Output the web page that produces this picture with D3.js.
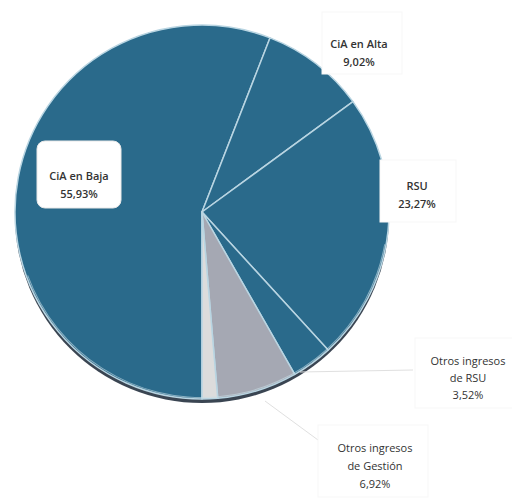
<!DOCTYPE html>
<html><head><meta charset="utf-8">
<script src="https://cdn.jsdelivr.net/npm/d3@7"></script>
<style>body{margin:0;background:#fff}svg{display:block}</style>
</head><body>
<svg id="c" width="512" height="500"></svg>
<script>
const categories = ["CIA en Baja", "CIA en Alta", "RSU", "Otros ingresos de RSU", "Otros ingresos de Gestión", "Otros"];
const values = [55.93, 9.02, 23.27, 3.52, 6.92, 1.34];
const valueLabels = ["55,93%", "9,02%", "23,27%", "3,52%", "6,92%", ""];
const labelLines = [["CiA en Baja", "55,93%"], ["CiA en Alta", "9,02%"], ["RSU", "23,27%"], ["Otros ingresos", "de RSU", "3,52%"], ["Otros ingresos", "de Gestión", "6,92%"], []];
const colors = ["#2a6a8b", "#2a6a8b", "#2a6a8b", "#2a6a8b", "#a5a8b3", "#dcdcdc"];

const svg = d3.select("#c");
const cx = 202, cy = 212, R = 187;
const g = svg.append("g").attr("transform", `translate(${cx},${cy})`);

const total = d3.sum(values);
const startDeg = 180 - 360;
const pie = d3.pie().sort(null).value(d => d)
  .startAngle(startDeg * Math.PI / 180).endAngle(startDeg * Math.PI / 180 + 2 * Math.PI);
const arcs = pie(values);
const arc = d3.arc().innerRadius(0).outerRadius(R);

// shadow rim
g.append("circle").attr("cx", 0).attr("cy", 4).attr("r", R).attr("fill", "#3a4552");

g.selectAll("path.slice").data(arcs).enter().append("path")
  .attr("class", "slice")
  .attr("d", arc)
  .attr("fill", (d, i) => colors[i])
  .attr("stroke", "#b9d5e2")
  .attr("stroke-width", 1.5)
  .attr("stroke-linejoin", "round");

// highlight line along bottom edge
const hl = d3.arc().innerRadius(R - 2).outerRadius(R - 1)
  .startAngle(100 * Math.PI / 180).endAngle(250 * Math.PI / 180);
g.append("path").attr("d", hl()).attr("fill", "#c8dde6").attr("opacity", 0.6);

// leader lines (faint)
const lead = svg.append("g").attr("stroke", "#e0e0e0").attr("stroke-width", 1).attr("fill", "none");
lead.append("polyline").attr("points", "265,401 318,440");
lead.append("polyline").attr("points", "300,372 413,370");

function labelBlock(lines, x, y0, lh, opts) {
  const t = svg.append("text")
    .attr("text-anchor", "middle")
    .attr("font-family", "'Open Sans', 'DejaVu Sans', sans-serif")
    .attr("font-size", 11)
    .attr("font-weight", opts && opts.bold ? 600 : 400)
    .attr("fill", "#333");
  lines.forEach((s, k) => t.append("tspan").attr("x", x).attr("y", y0 + k * lh).text(s));
}
// faint background boxes
const boxes = [
  [322, 12, 80, 62], [380, 160, 76, 62], [415, 338, 100, 70], [318, 425, 110, 72]
];
boxes.forEach(b => svg.append("rect").attr("x", b[0]).attr("y", b[1]).attr("width", b[2]).attr("height", b[3])
  .attr("fill", "#fff").attr("stroke", "#f7f7f7").attr("stroke-width", 1));

// CIA en Baja boxed label
svg.append("rect").attr("x", 37).attr("y", 141).attr("width", 84).attr("height", 67)
  .attr("rx", 8).attr("fill", "#fff").attr("stroke", "#e8e8e8");

labelBlock(labelLines[0], 79, 180, 18, {bold: true});
labelBlock(labelLines[1], 359, 48, 18, {bold: true});
labelBlock(labelLines[2], 417, 190, 18, {bold: true});
labelBlock(labelLines[3], 468, 365, 17, {bold: false});
labelBlock(labelLines[4], 375, 452, 18, {bold: false});
</script>
</body></html>
